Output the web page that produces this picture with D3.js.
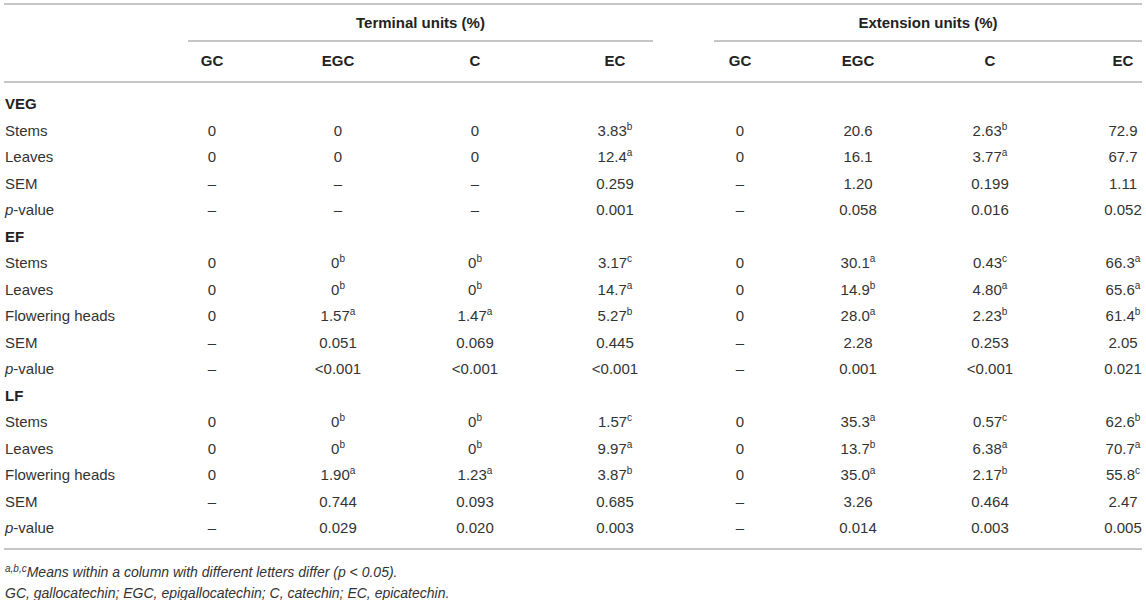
<!DOCTYPE html>
<html>
<head>
<meta charset="utf-8">
<script src="https://cdn.jsdelivr.net/npm/d3@7"></script>
<style>
    body { margin: 0; background: #fff; }
    svg { display: block; font-family: "Liberation Sans", Arial, sans-serif; }
    .cell { font-size: 15px; fill: #333; }
    .head { font-size: 15px; font-weight: bold; fill: #222; }
    .note { font-size: 14px; font-style: italic; fill: #333; }
    .rule { stroke: #b3b3b3; stroke-width: 1.6; }
</style>
</head>
<body>
<div id="table"></div>
<script>
// column groups and compounds
const groups = ["Terminal units (%)", "Extension units (%)"];
const compounds = ["GC", "EGC", "C", "EC"];

// row labels (VEG, EF, LF are section rows)
const rowLabels = ["VEG", "Stems", "Leaves", "SEM", "p-value",
                   "EF", "Stems", "Leaves", "Flowering heads", "SEM", "p-value",
                   "LF", "Stems", "Leaves", "Flowering heads", "SEM", "p-value"];
const sections = ["VEG", "EF", "LF"];

// cell values, "^" marks the superscript letter
const termGC  = [null, "0", "0", "–", "–", null, "0", "0", "0", "–", "–", null, "0", "0", "0", "–", "–"];
const termEGC = [null, "0", "0", "–", "–", null, "0^b", "0^b", "1.57^a", "0.051", "<0.001", null, "0^b", "0^b", "1.90^a", "0.744", "0.029"];
const termC   = [null, "0", "0", "–", "–", null, "0^b", "0^b", "1.47^a", "0.069", "<0.001", null, "0^b", "0^b", "1.23^a", "0.093", "0.020"];
const termEC  = [null, "3.83^b", "12.4^a", "0.259", "0.001", null, "3.17^c", "14.7^a", "5.27^b", "0.445", "<0.001", null, "1.57^c", "9.97^a", "3.87^b", "0.685", "0.003"];
const extGC   = [null, "0", "0", "–", "–", null, "0", "0", "0", "–", "–", null, "0", "0", "0", "–", "–"];
const extEGC  = [null, "20.6", "16.1", "1.20", "0.058", null, "30.1^a", "14.9^b", "28.0^a", "2.28", "0.001", null, "35.3^a", "13.7^b", "35.0^a", "3.26", "0.014"];
const extC    = [null, "2.63^b", "3.77^a", "0.199", "0.016", null, "0.43^c", "4.80^a", "2.23^b", "0.253", "<0.001", null, "0.57^c", "6.38^a", "2.17^b", "0.464", "0.003"];
const extEC   = [null, "72.9", "67.7", "1.11", "0.052", null, "66.3^a", "65.6^a", "61.4^b", "2.05", "0.021", null, "62.6^b", "70.7^a", "55.8^c", "2.47", "0.005"];

const footnotes = ["Means within a column with different letters differ (p < 0.05).",
                   "GC, gallocatechin; EGC, epigallocatechin; C, catechin; EC, epicatechin."];

/** Class drawing the table as an svg. */
class UnitsTable {

    constructor() {
        this.width = 1146;
        this.height = 600;
        this.svg = d3.select("#table").append("svg")
            .attr("width", this.width)
            .attr("height", this.height);
    }

    /**
     * Writes a value, putting the part after "^" in a superscript.
     */
    writeValue(sel, value) {
        let parts = value.split("^");
        sel.append("tspan").text(parts[0]);
        if (parts.length > 1) {
            sel.append("tspan")
                .attr("font-size", 10)
                .attr("dy", -6)
                .text(parts[1]);
        }
    }

    update() {
        let columns = [termGC, termEGC, termC, termEC, extGC, extEGC, extC, extEC];
        let colKeys = d3.range(columns.length);

        // column centres (terminal / extension blocks)
        let xScale = d3.scaleOrdinal()
            .domain(colKeys)
            .range([212, 338, 475, 615, 740, 858, 990, 1123]);

        // group spans
        let groupScale = d3.scaleOrdinal()
            .domain(groups)
            .range([[188, 653], [714, 1142]]);

        let yScale = d3.scaleLinear()
            .domain([0, rowLabels.length - 1])
            .range([104, 528]);

        const LEFT = 4, RIGHT = 1142;

        // horizontal rules
        this.svg.selectAll("line.full")
            .data([4, 82, 549])
            .enter().append("line")
            .attr("class", "rule")
            .attr("x1", LEFT).attr("x2", RIGHT)
            .attr("y1", d => d).attr("y2", d => d);

        this.svg.selectAll("line.group")
            .data(groups)
            .enter().append("line")
            .attr("class", "rule")
            .attr("x1", d => groupScale(d)[0])
            .attr("x2", d => groupScale(d)[1])
            .attr("y1", 41).attr("y2", 41);

        // group titles
        this.svg.selectAll("text.group")
            .data(groups)
            .enter().append("text")
            .attr("class", "head")
            .attr("x", d => (groupScale(d)[0] + groupScale(d)[1]) / 2)
            .attr("y", 28)
            .attr("text-anchor", "middle")
            .text(d => d);

        // compound headers
        this.svg.selectAll("text.compound")
            .data(colKeys)
            .enter().append("text")
            .attr("class", "head")
            .attr("x", d => xScale(d))
            .attr("y", 66)
            .attr("text-anchor", "middle")
            .text(d => compounds[d % compounds.length]);

        // row labels
        let labels = this.svg.selectAll("text.label")
            .data(rowLabels)
            .enter().append("text")
            .attr("class", d => sections.includes(d) ? "head" : "cell")
            .attr("x", LEFT + 1)
            .attr("y", (d, i) => yScale(i) + 5);
        labels.each(function(d) {
            let t = d3.select(this);
            if (d == "p-value") {
                t.append("tspan").attr("font-style", "italic").text("p");
                t.append("tspan").text("-value");
            } else {
                t.text(d);
            }
        });

        // values
        let self = this;
        columns.forEach((col, c) => {
            this.svg.selectAll("text.c" + c)
                .data(col.map((v, i) => ({v: v, i: i})).filter(d => d.v != null))
                .enter().append("text")
                .attr("class", "cell")
                .attr("x", xScale(c))
                .attr("y", d => yScale(d.i) + 5)
                .attr("text-anchor", "middle")
                .each(function(d) { self.writeValue(d3.select(this), d.v); });
        });

        // footnotes
        let fn1 = this.svg.append("text")
            .attr("class", "note")
            .attr("x", LEFT + 1)
            .attr("y", 577);
        fn1.append("tspan").attr("font-size", 10).attr("dy", -5).text("a,b,c");
        fn1.append("tspan").attr("dy", 5).text(footnotes[0]);

        this.svg.append("text")
            .attr("class", "note")
            .attr("x", LEFT + 1)
            .attr("y", 598)
            .text(footnotes[1]);
    }
}

let table = new UnitsTable();
table.update();
</script>
</body>
</html>
